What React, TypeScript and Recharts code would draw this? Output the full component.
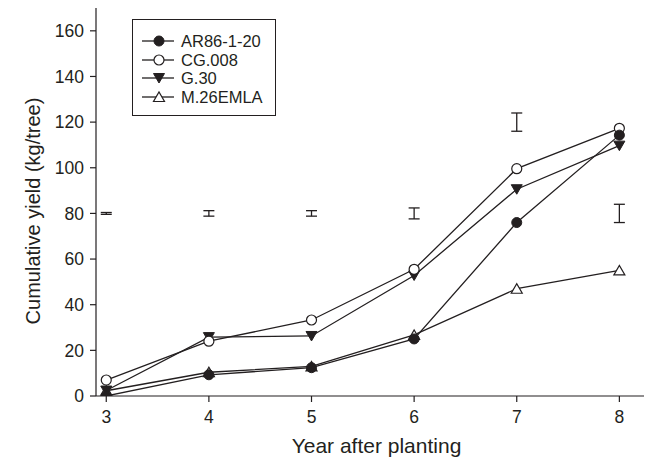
import React from 'react';
import { ComposedChart, Line, Scatter, ErrorBar, XAxis, YAxis, Legend } from 'recharts';

const years = [3, 4, 5, 6, 7, 8];
const ar86 = [0, 9.3, 12.4, 25, 76, 114.3];
const cg008 = [7, 24, 33.3, 55.5, 99.6, 117.3];
const g30 = [2.4, 25.8, 26.3, 52.8, 90.6, 109.7];
const m26 = [2.3, 10.4, 13, 26.8, 47, 55];
const lsdCenter = [80, 80, 80, 80, 120, 80];
const lsdHalf = [0.4, 1.2, 1.2, 2.4, 4, 4];
const yTicks = [0, 20, 40, 60, 80, 100, 120, 140, 160];

const INK = '#231f20';
const FONT = '"Liberation Sans", Arial, Helvetica, sans-serif';

const rows = years.map((year, i) => ({
  year,
  ar86: ar86[i],
  cg008: cg008[i],
  g30: g30[i],
  m26: m26[i],
}));

const lsdRows = years.map((year, i) => ({ year, center: lsdCenter[i], half: lsdHalf[i] }));

type Kind = 'dot' | 'circle' | 'down' | 'up';

function Marker({ kind, cx, cy }: { kind: Kind; cx: number; cy: number }) {
  if (kind === 'dot') return <circle cx={cx} cy={cy} r={5} fill={INK} stroke={INK} strokeWidth={1} />;
  if (kind === 'circle') return <circle cx={cx} cy={cy} r={5} fill="#fff" stroke={INK} strokeWidth={1.2} />;
  if (kind === 'down')
    return <path d={`M${cx - 5.5},${cy - 4.5}L${cx + 5.5},${cy - 4.5}L${cx},${cy + 5}Z`} fill={INK} stroke={INK} strokeWidth={1} />;
  return <path d={`M${cx - 5.5},${cy + 4.5}L${cx + 5.5},${cy + 4.5}L${cx},${cy - 5}Z`} fill="#fff" stroke={INK} strokeWidth={1.2} />;
}

const series: { key: string; name: string; kind: Kind }[] = [
  { key: 'm26', name: 'M.26EMLA', kind: 'up' },
  { key: 'g30', name: 'G.30', kind: 'down' },
  { key: 'cg008', name: 'CG.008', kind: 'circle' },
  { key: 'ar86', name: 'AR86-1-20', kind: 'dot' },
];

const legendOrder = ['ar86', 'cg008', 'g30', 'm26'];

function LegendBox() {
  return (
    <div
      style={{
        boxSizing: 'border-box',
        width: 144,
        height: 97,
        border: `1px solid ${INK}`,
        background: '#fff',
        paddingTop: 12,
        fontFamily: FONT,
        fontSize: 16.5,
        color: INK,
      }}
    >
      {legendOrder.map((k) => {
        const s = series.find((x) => x.key === k)!;
        return (
          <div key={k} style={{ display: 'flex', alignItems: 'center', height: 18.6 }}>
            <svg width={34} height={14} style={{ marginLeft: 9, overflow: 'visible' }}>
              <line x1={0} y1={7} x2={32} y2={7} stroke={INK} strokeWidth={1.3} />
              <Marker kind={s.kind} cx={17} cy={7} />
            </svg>
            <span style={{ marginLeft: 5, lineHeight: '18px' }}>{s.name}</span>
          </div>
        );
      })}
    </div>
  );
}

export default function App() {
  const tickStyle = { fontSize: 17.5, fill: INK, fontFamily: FONT };
  return (
    <div style={{ position: 'absolute', left: 0, top: 0, background: '#fff' }}>
      <ComposedChart
        width={647}
        height={458}
        data={rows}
        margin={{ top: 8, right: 3, bottom: 0, left: 0 }}
      >
        <XAxis
          dataKey="year"
          type="number"
          domain={[2.9, 8.24]}
          ticks={years}
          allowDataOverflow
          height={62}
          tickSize={6}
          tickMargin={9}
          tick={tickStyle}
          axisLine={{ stroke: INK, strokeWidth: 1.2 }}
          tickLine={{ stroke: INK, strokeWidth: 1.2 }}
          label={{
            content: ({ viewBox }: any) => (
              <text x={376.5} y={viewBox.y + 57} textAnchor="middle" fontSize={21} fill={INK} fontFamily={FONT}>
                Year after planting
              </text>
            ),
          }}
        />
        <XAxis
          xAxisId="top"
          orientation="top"
          type="number"
          dataKey="year"
          domain={[2.9, 8.24]}
          height={0}
          tick={false}
          tickLine={false}
          axisLine={{ stroke: INK, strokeWidth: 1.2 }}
        />
        <YAxis
          type="number"
          domain={[0, 170]}
          ticks={yTicks}
          allowDataOverflow
          width={96}
          tickSize={6}
          tickMargin={6}
          tick={tickStyle}
          axisLine={{ stroke: INK, strokeWidth: 1.2 }}
          tickLine={{ stroke: INK, strokeWidth: 1.2 }}
          label={{
            content: ({ viewBox }: any) => {
              const x = 33;
              const y = viewBox.y + viewBox.height / 2 + 9;
              return (
                <text
                  x={x}
                  y={y}
                  transform={`rotate(-90, ${x}, ${y})`}
                  textAnchor="middle"
                  dominantBaseline="central"
                  fontSize={20}
                  fill={INK}
                  fontFamily={FONT}
                >
                  Cumulative yield (kg/tree)
                </text>
              );
            },
          }}
        />
        <YAxis
          yAxisId="right"
          orientation="right"
          domain={[0, 170]}
          width={0}
          tick={false}
          tickLine={false}
          axisLine={{ stroke: INK, strokeWidth: 1.2 }}
        />
        <Legend
          layout="vertical"
          align="center"
          verticalAlign="middle"
          wrapperStyle={{ left: 132, top: 19, width: 144, height: 97 }}
          content={() => <LegendBox />}
        />
        <Scatter data={lsdRows} dataKey="center" shape={() => <g />} isAnimationActive={false} legendType="none">
          <ErrorBar dataKey="half" direction="y" width={5.5} stroke={INK} strokeWidth={1.3} isAnimationActive={false} />
        </Scatter>
        {series.map((s) => (
          <Line
            key={s.key}
            dataKey={s.key}
            name={s.name}
            type="linear"
            stroke={INK}
            strokeWidth={1.3}
            isAnimationActive={false}
            dot={(p: any) => <Marker key={`${s.key}-${p.index}`} kind={s.kind} cx={p.cx} cy={p.cy} />}
            activeDot={false}
          />
        ))}
      </ComposedChart>
    </div>
  );
}
